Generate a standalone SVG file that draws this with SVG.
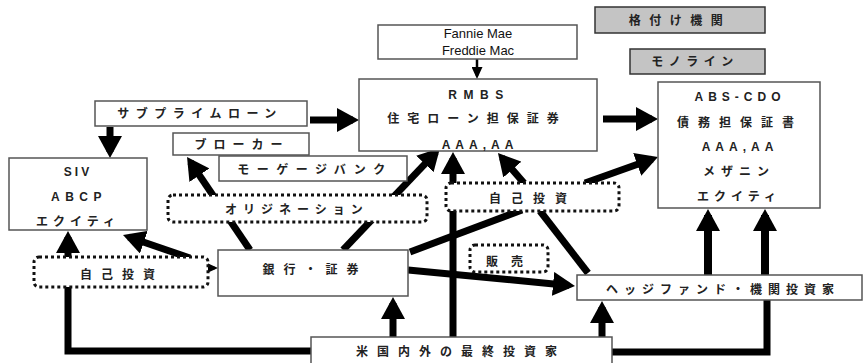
<svg xmlns="http://www.w3.org/2000/svg" width="865" height="363" viewBox="0 0 865 363">
<style>
.box{fill:#fff;stroke:#555;stroke-width:1.5}
.gbox{fill:#c4c4c4;stroke:#333;stroke-width:1.5}
.dbox{fill:#fff;stroke:#111;stroke-width:3;stroke-dasharray:3 3}
.t{font-family:"Liberation Sans","Noto Sans CJK JP",sans-serif;font-size:12px;font-weight:bold;fill:#222;text-anchor:middle}
.e{font-family:"Liberation Sans",Arial,sans-serif;font-size:13px;fill:#111;text-anchor:middle}
.c{stroke:#000;stroke-width:7;fill:none}
.cw{stroke:#000;stroke-width:8;fill:none}
.th{stroke:#000;stroke-width:2.5;fill:none}
</style>
<defs>
<marker id="ah" markerUnits="userSpaceOnUse" markerWidth="22" markerHeight="24" viewBox="0 0 22 24" refX="16" refY="12" orient="auto"><path d="M0,0 L22,12 L0,24 z" fill="#000"/></marker>
<marker id="sh" markerUnits="userSpaceOnUse" markerWidth="12" markerHeight="11" viewBox="0 0 12 11" refX="9" refY="5.5" orient="auto"><path d="M0,0 L12,5.5 L0,11 z" fill="#000"/></marker>
</defs>
<g id="connectors">
<line class="th" x1="477" y1="59" x2="477" y2="76" marker-end="url(#sh)"/>
<line class="c" x1="310" y1="120" x2="353" y2="120" marker-end="url(#ah)"/>
<line class="c" x1="110" y1="127" x2="110" y2="152" marker-end="url(#ah)"/>
<line class="c" x1="603" y1="119" x2="652" y2="119" marker-end="url(#ah)"/>
<line class="c" x1="250" y1="250" x2="190.4" y2="162" marker-end="url(#ah)"/>
<line class="c" x1="343" y1="250" x2="435.9" y2="152.3" marker-end="url(#ah)"/>
<line class="c" x1="453" y1="337" x2="453" y2="158" marker-end="url(#ah)"/>
<line class="c" x1="393" y1="337" x2="393" y2="303" marker-end="url(#ah)"/>
<line class="c" x1="602" y1="337" x2="602" y2="307" marker-end="url(#ah)"/>
<polyline class="c" points="311,351 68,351 68,287"/>
<line class="c" x1="68" y1="257" x2="68" y2="237" marker-end="url(#ah)"/>
<polyline class="c" points="612,352 767,352 767,300"/>
<line class="cw" x1="765" y1="275" x2="765" y2="215" marker-end="url(#ah)"/>
<line class="cw" x1="708" y1="275" x2="708" y2="215" marker-end="url(#ah)"/>
<line class="c" x1="190" y1="258" x2="128.7" y2="237" marker-end="url(#ah)"/>
<line class="th" x1="206" y1="268" x2="215" y2="268" marker-end="url(#sh)"/>
<line class="c" x1="410" y1="252" x2="522" y2="210"/>
<line class="c" x1="524" y1="183" x2="501.9" y2="157.5" marker-end="url(#ah)"/>
<line class="c" x1="585" y1="183" x2="652.3" y2="159" marker-end="url(#ah)"/>
<line class="c" x1="540" y1="211" x2="588" y2="273"/>
<line class="c" x1="408" y1="270" x2="569" y2="285.4" marker-end="url(#ah)"/>
</g>
<g id="rating"><rect class="gbox" x="595" y="7" width="170" height="26"/><text class="t" x="680" y="25" letter-spacing="8.5">格付け機関</text></g>
<g id="monoline"><rect class="gbox" x="630" y="49" width="135" height="25"/><text class="t" x="695" y="66" letter-spacing="5.5">モノライン</text></g>
<g id="gse"><rect class="box" x="378" y="25" width="199" height="34"/><text class="e" x="478" y="38">Fannie Mae</text><text class="e" x="478" y="55">Freddie Mac</text></g>
<g id="rmbs"><rect class="box" x="359" y="79" width="238" height="72"/><text class="t" x="479" y="99" letter-spacing="6.5">RMBS</text><text class="t" x="477" y="123" letter-spacing="8">住宅ローン担保証券</text><text class="t" x="480" y="149" letter-spacing="5">AAA,AA</text></g>
<g id="abscdo"><rect class="box" x="658" y="82" width="162" height="126"/><text class="t" x="740" y="101" letter-spacing="5">ABS-CDO</text><text class="t" x="740" y="127" letter-spacing="9">債務担保証書</text><text class="t" x="740" y="151" letter-spacing="5">AAA,AA</text><text class="t" x="739" y="176" letter-spacing="6">メザニン</text><text class="t" x="739" y="201" letter-spacing="5">エクイティ</text></g>
<g id="subprime"><rect class="box" x="95" y="101" width="212" height="25"/><text class="t" x="200" y="118" letter-spacing="6.5">サブプライムローン</text></g>
<g id="siv"><rect class="box" x="9" y="158" width="138" height="72"/><text class="t" x="78" y="176" letter-spacing="3">SIV</text><text class="t" x="79" y="201" letter-spacing="5.5">ABCP</text><text class="t" x="78" y="226" letter-spacing="5">エクイティ</text></g>
<g id="broker"><rect class="box" x="173" y="133" width="136" height="22"/><text class="t" x="242" y="149" letter-spacing="7">ブローカー</text></g>
<g id="mortgage"><rect class="box" x="219" y="156" width="188" height="25"/><text class="t" x="315" y="174" letter-spacing="7.5">モーゲージバンク</text></g>
<g id="origination"><rect class="dbox" x="168" y="195" width="259" height="27" rx="5"/><text class="t" x="297" y="214" letter-spacing="6">オリジネーション</text></g>
<g id="self-left"><rect class="dbox" x="34" y="257" width="174" height="30" rx="5"/><text class="t" x="122" y="279" letter-spacing="9">自己投資</text></g>
<g id="bank"><rect class="box" x="218" y="250" width="190" height="46"/><text class="t" x="315" y="274" letter-spacing="9">銀行・証券</text></g>
<g id="self-center"><rect class="dbox" x="446" y="183" width="173" height="28" rx="5"/><text class="t" x="533" y="203" letter-spacing="10">自己投資</text></g>
<g id="sales"><rect class="dbox" x="470" y="245" width="78" height="27" rx="5"/><text class="t" x="511" y="266" letter-spacing="13">販売</text></g>
<g id="hedge"><rect class="box" x="577" y="275" width="285" height="25"/><text class="t" x="723" y="294" letter-spacing="6">ヘッジファンド・機関投資家</text></g>
<g id="investors"><rect class="box" x="311" y="337" width="301" height="40"/><text class="t" x="461" y="356" letter-spacing="9">米国内外の最終投資家</text></g>
</svg>
